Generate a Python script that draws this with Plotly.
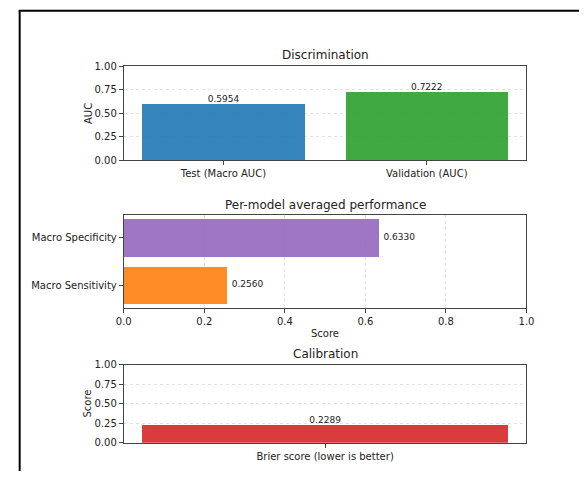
import plotly.graph_objects as go

# ---- data ----
disc_categories = ["Test (Macro AUC)", "Validation (AUC)"]
disc_values = [0.5954, 0.7222]
perf_categories = ["Macro Sensitivity", "Macro Specificity"]
perf_values = [0.2560, 0.6330]
calib_categories = ["Brier score (lower is better)"]
calib_values = [0.2289]
y_ticks = [0, 0.25, 0.5, 0.75, 1.0]
y_tick_labels = ["0.00", "0.25", "0.50", "0.75", "1.00"]
x_ticks = [0, 0.2, 0.4, 0.6, 0.8, 1.0]
x_tick_labels = ["0.0", "0.2", "0.4", "0.6", "0.8", "1.0"]

W, H = 587, 477
FONT = "DejaVu Sans"
TXT = "#222222"
AX = "#444444"
GRID = "#e2e2e2"
DASH = "3px,3px"

def px(x):
    return x / W

def py(y):
    return 1 - y / H

X0, X1 = px(119), px(533)
P1 = [py(158), py(62)]
P2 = [py(310), py(214)]
P3 = [py(448), py(368)]

fig = go.Figure()

# Panel 1: discrimination
fig.add_trace(go.Bar(x=disc_categories, y=disc_values, width=0.8,
                     marker=dict(color=["#1f77b4", "#2ca02c"], opacity=0.9, line=dict(width=0)),
                     xaxis="x", yaxis="y", showlegend=False))
fig.add_trace(go.Scatter(x=disc_categories, y=disc_values, mode="text",
                         text=[f"{v:.4f}" for v in disc_values], textposition="top center",
                         textfont=dict(size=9, color=TXT, family=FONT),
                         xaxis="x", yaxis="y", showlegend=False, cliponaxis=False))

# Panel 2: per-model averaged performance
fig.add_trace(go.Bar(y=perf_categories, x=perf_values, width=0.8, orientation="h",
                     marker=dict(color=["#ff7f0e", "#9467bd"], opacity=0.9, line=dict(width=0)),
                     xaxis="x2", yaxis="y2", showlegend=False))
fig.add_trace(go.Scatter(y=perf_categories, x=[v + 0.012 for v in perf_values], mode="text",
                         text=[f"{v:.4f}" for v in perf_values], textposition="middle right",
                         textfont=dict(size=9, color=TXT, family=FONT),
                         xaxis="x2", yaxis="y2", showlegend=False, cliponaxis=False))

# Panel 3: calibration
fig.add_trace(go.Bar(x=calib_categories, y=calib_values, width=0.8,
                     marker=dict(color=["#d62728"], opacity=0.9, line=dict(width=0)),
                     xaxis="x3", yaxis="y3", showlegend=False))
fig.add_trace(go.Scatter(x=calib_categories, y=calib_values, mode="text",
                         text=[f"{v:.4f}" for v in calib_values], textposition="top center",
                         textfont=dict(size=9, color=TXT, family=FONT),
                         xaxis="x3", yaxis="y3", showlegend=False, cliponaxis=False))

common = dict(showline=True, linecolor=AX, linewidth=1, mirror=True,
              ticks="outside", ticklen=4, tickcolor=AX, tickwidth=1,
              tickfont=dict(size=10, color=TXT, family=FONT), zeroline=False)
grid = dict(showgrid=True, gridcolor=GRID, griddash=DASH, gridwidth=1)

fig.update_layout(
    width=W, height=H,
    margin=dict(l=0, r=0, t=0, b=0),
    paper_bgcolor="white", plot_bgcolor="white",
    font=dict(family=FONT, color=TXT),
    bargap=0,
    xaxis=dict(domain=[X0, X1], anchor="y", type="category", range=[-0.49, 1.49],
               showgrid=False, **common),
    yaxis=dict(domain=P1, anchor="x", range=[0, 1], tickvals=y_ticks, ticktext=y_tick_labels,
               **grid, **common),
    xaxis2=dict(domain=[X0, X1], anchor="y2", range=[0, 1], tickvals=x_ticks, ticktext=x_tick_labels,
                **grid, **common),
    yaxis2=dict(domain=P2, anchor="x2", type="category", range=[-0.49, 1.49],
                showgrid=False, **common),
    xaxis3=dict(domain=[X0, X1], anchor="y3", type="category", range=[-0.44, 0.44],
                showgrid=False, **common),
    yaxis3=dict(domain=P3, anchor="x3", range=[0, 1], tickvals=y_ticks, ticktext=y_tick_labels,
                **grid, **common),
)

cx = (X0 + X1) / 2
ann = [
    dict(text="Discrimination", x=cx, y=py(50), size=12, angle=0),
    dict(text="Per-model averaged performance", x=cx, y=py(204), size=12, angle=0),
    dict(text="Calibration", x=cx, y=py(357), size=12, angle=0),
    dict(text="Score", x=cx, y=py(336), size=10, angle=0),
    dict(text="AUC", x=px(82), y=py(110), size=10, angle=-90),
    dict(text="Score", x=px(82), y=py(408), size=10, angle=-90),
]
for a in ann:
    fig.add_annotation(text=a["text"], x=a["x"], y=a["y"], xref="paper", yref="paper",
                       xanchor="center", yanchor="middle", showarrow=False, textangle=a["angle"],
                       font=dict(size=a["size"], color=TXT, family=FONT))

# screenshot frame lines
fig.add_shape(type="line", xref="paper", yref="paper", x0=px(11), x1=1, y0=py(5), y1=py(5),
              line=dict(color="black", width=2))
fig.add_shape(type="line", xref="paper", yref="paper", x0=px(12), x1=px(12), y0=py(5), y1=0,
              line=dict(color="black", width=2))

fig.write_html("out.html", config={"displayModeBar": False},
               post_script="document.body.style.margin='0';document.body.style.overflow='hidden';")
